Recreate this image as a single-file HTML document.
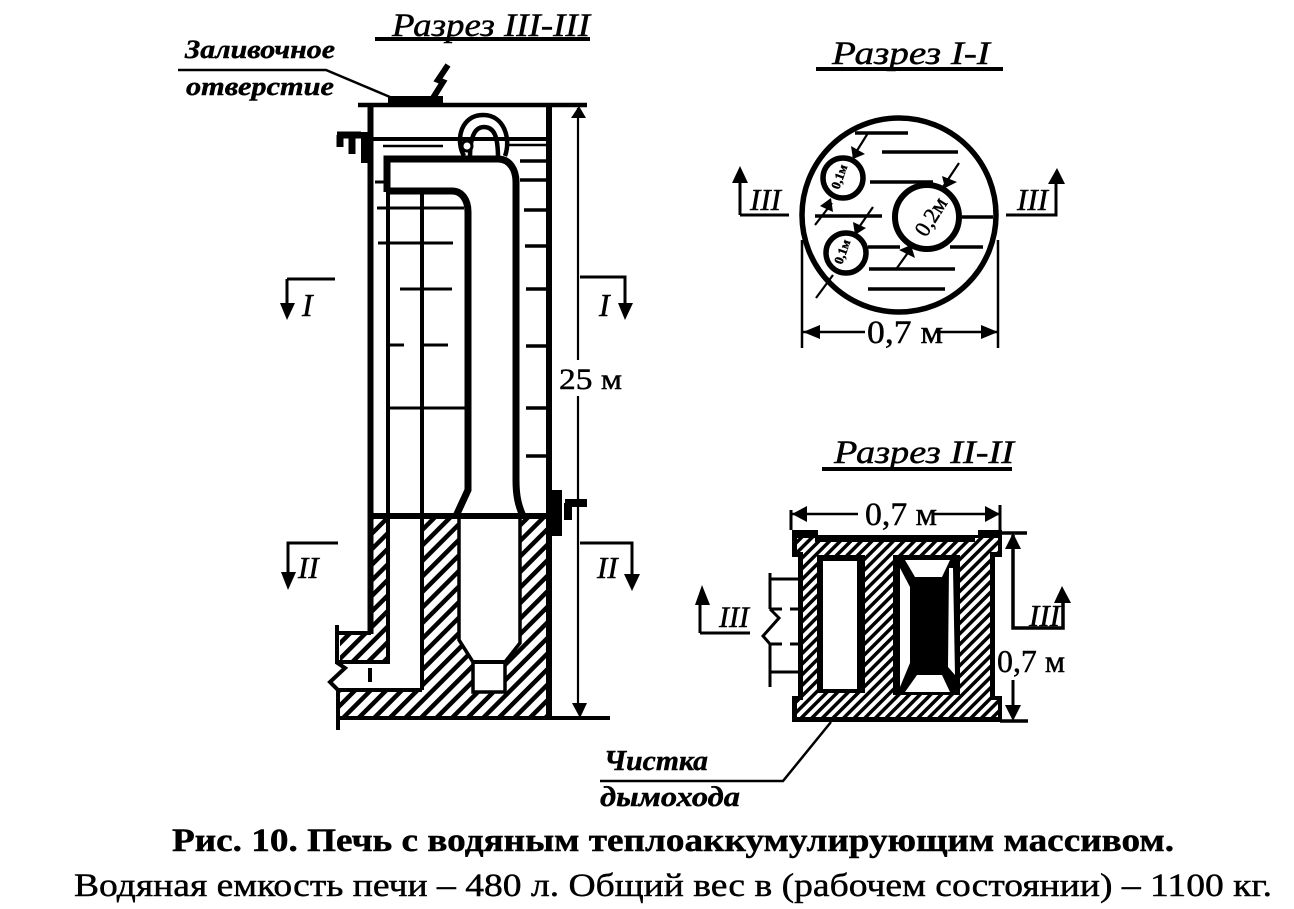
<!DOCTYPE html>
<html><head><meta charset="utf-8"><style>
html,body{margin:0;padding:0;background:#fff;width:1294px;height:909px;overflow:hidden}
svg{display:block}
text{fill:#000;stroke:#000;stroke-width:.45px;font-family:"Liberation Serif",serif}
.i{font-style:italic}
.b{font-weight:bold}
</style></head><body>
<svg width="1294" height="909" viewBox="0 0 1294 909" xmlns="http://www.w3.org/2000/svg">
<defs>
<pattern id="h" width="11" height="11" patternUnits="userSpaceOnUse" patternTransform="rotate(-45)">
<rect width="11" height="11" fill="#fff"/><rect width="11" height="4.500" fill="#000"/>
</pattern>
<pattern id="h2" width="7.500" height="7.500" patternUnits="userSpaceOnUse" patternTransform="rotate(-45)">
<rect width="7.500" height="7.500" fill="#fff"/><rect width="7.500" height="3.500" fill="#000"/>
</pattern>
</defs>
<rect width="1294" height="909" fill="#fff"/>

<!-- main section -->
<text class="i" x="392" y="36" font-size="33" textLength="198" lengthAdjust="spacingAndGlyphs">Разрез III-III</text>
<path d="M375 39H590" stroke="#000" stroke-width="4"/>
<text class="i b" x="185" y="58" font-size="26" textLength="150" lengthAdjust="spacingAndGlyphs">Заливочное</text>
<path d="M178 70H326L390 97" stroke="#000" stroke-width="2.500" fill="none"/>
<text class="i b" x="186" y="95" font-size="26" textLength="148" lengthAdjust="spacingAndGlyphs">отверстие</text>
<path d="M388 96H443V104H388z" fill="#000"/>
<path d="M433 98L443 82L438 80L448 65" stroke="#000" stroke-width="6" fill="none"/>
<path d="M358 105H587" stroke="#000" stroke-width="4.500"/>

<!-- hatch fill bottom -->
<path d="M372 518H388V660H340V634H372z" fill="url(#h)"/>
<path d="M422 518H459V640L473 662V692H505V662L520 643V518H548V716H340V692H422z" fill="url(#h)"/>

<!-- walls -->
<path d="M370.500 105V634M549 105V718" stroke="#000" stroke-width="6" fill="none"/>
<path d="M372 516H548" stroke="#000" stroke-width="6"/>
<path d="M368 139H548" stroke="#000" stroke-width="4"/>
<path d="M508 145H546M383 146H443" stroke="#000" stroke-width="2.500"/>
<!-- ring -->
<path d="M464 156C455 140 461 115 483 115C505 115 511 140 505 156" stroke="#000" stroke-width="4.500" fill="none"/>
<path d="M470 158C470 136 475 127 484 127C494 127 498 136 498 158" stroke="#000" stroke-width="4.500" fill="none"/>
<circle cx="467" cy="146" r="5" fill="#fff" stroke="#000" stroke-width="3"/>
<!-- flue -->
<path d="M387 192V159H498C510 159 516 170 516 182V480C516 495 518 505 523 516" stroke="#000" stroke-width="7" fill="none"/>
<path d="M387 191H452C462 191 468 200 468 212V490L456 516" stroke="#000" stroke-width="7" fill="none"/>
<path d="M388 190V661M422 190V690" stroke="#000" stroke-width="4" fill="none"/>
<path d="M459 518V640L473 662V692H505V662L520 643V518" stroke="#000" stroke-width="3.500" fill="none"/>
<path d="M473 662H505" stroke="#000" stroke-width="4" fill="none"/>
<path d="M375 182H387M377 208H464M378 243H453M400 289H452M386 345H404M420 345H448M386 408H468" stroke="#000" stroke-width="3" fill="none"/>
<path d="M520 161H548M520 180H548M524 210H548M525 246H548M526 289H548M526 346H548M526 408H548M526 456H548" stroke="#000" stroke-width="3.500" fill="none"/>
<!-- foot -->
<path d="M337 625V662H390M337 633H371M336 662L345 668L330 682L338 690H422M338 690V730M340 718H610" stroke="#000" stroke-width="4" fill="none"/>
<path d="M370 668V682" stroke="#000" stroke-width="4"/>
<!-- valves -->
<path d="M337 135H361M340 135V147M352 135V154" stroke="#000" stroke-width="7" fill="none"/>
<rect x="361" y="132" width="12" height="31"/>
<rect x="550" y="490" width="12" height="46"/>
<path d="M565 503H587M568 503V520" stroke="#000" stroke-width="8" fill="none"/>
<!-- dimension -->
<path d="M578 108V712" stroke="#000" stroke-width="2.200" fill="none"/>
<path d="M571 118L579 106L586 118zM572 703H587L580 718z" fill="#000"/>
<rect x="556" y="360" width="72" height="36" fill="#fff"/>
<text x="559" y="389" font-size="30" textLength="63" lengthAdjust="spacingAndGlyphs">25 м</text>
<!-- section marks -->
<path d="M287 279H335M287 279V304" stroke="#000" stroke-width="3" fill="none"/><path d="M280 303H295L287 320z"/>
<text class="i" x="302" y="316" font-size="32">I</text>
<path d="M580 277H625V304" stroke="#000" stroke-width="3" fill="none"/><path d="M618 303H633L625 320z"/>
<text class="i" x="599" y="316" font-size="32">I</text>
<path d="M338 543H288V572" stroke="#000" stroke-width="3" fill="none"/><path d="M281 572H296L288 590z"/>
<text class="i" x="298" y="578" font-size="31">II</text>
<path d="M580 543H632V574" stroke="#000" stroke-width="3" fill="none"/><path d="M624 574H640L632 591z"/>
<text class="i" x="597" y="578" font-size="31">II</text>

<!-- section I-I -->
<text class="i" x="832" y="64" font-size="33" textLength="158" lengthAdjust="spacingAndGlyphs">Разрез I-I</text>
<path d="M816 69H1003" stroke="#000" stroke-width="4"/>
<circle cx="899" cy="215" r="97" fill="none" stroke="#000" stroke-width="5.500"/>
<path d="M855 133H908M882 152H958M870 182H933M815 216H882M962 217H993M868 247H900M950 247H983M869 269H955M868 289H945" stroke="#000" stroke-width="3.500" fill="none"/>
<circle cx="843" cy="178" r="20" fill="#fff" stroke="#000" stroke-width="5.500"/>
<circle cx="846" cy="253" r="20" fill="#fff" stroke="#000" stroke-width="5.500"/>
<circle cx="927" cy="217" r="32" fill="#fff" stroke="#000" stroke-width="6"/>
<path d="M868 133L853 157M832 203L815 225M873 207L855 233M833 275L816 298M959 163L943 187M912 247L897 268" stroke="#000" stroke-width="2.200" fill="none"/>
<path d="M853 159L851 146L865 154zM831 198L820 206L833 212zM855 235L853 222L866 228zM945 188L942 176L957 182zM911 245L915 258L899 250z"/>
<text x="0" y="0" font-size="13" font-weight="bold" transform="translate(839,190) rotate(-70)">0,1м</text>
<text x="0" y="0" font-size="13" font-weight="bold" transform="translate(842,265) rotate(-70)">0,1м</text>
<text x="0" y="0" font-size="22" transform="translate(926,238) rotate(-58)">0,2м</text>
<path d="M740 215H789M740 215V180" stroke="#000" stroke-width="3" fill="none"/><path d="M732 183L740 166L748 183z"/>
<text class="i" x="750" y="210" font-size="31">III</text>
<path d="M1006 215H1056V182" stroke="#000" stroke-width="3" fill="none"/><path d="M1048 184L1057 168L1065 184z"/>
<text class="i" x="1017" y="210" font-size="31">III</text>
<path d="M802 240V348M998 240V348" stroke="#000" stroke-width="2.500" fill="none"/>
<path d="M803 332H865M935 332H998" stroke="#000" stroke-width="2.500" fill="none"/>
<path d="M803 332L820 325V339zM998 332L981 325V339z"/>
<text x="867" y="343" font-size="33" textLength="76" lengthAdjust="spacingAndGlyphs">0,7 м</text>

<!-- section II-II -->
<text class="i" x="834" y="463" font-size="33" textLength="180" lengthAdjust="spacingAndGlyphs">Разрез II-II</text>
<path d="M822 469H1012" stroke="#000" stroke-width="4"/>
<path d="M792 530H818V535H978V530H1002V557H995V696H1002V722H792V696H798V557H792z" fill="#000"/>
<path d="M797 538H815V542H975V538H998V552H990V700H998V717H797V700H803V552H797z" fill="url(#h2)"/>
<path d="M817 555H865V693H817z" fill="#000"/>
<rect x="823" y="561" width="34" height="128" fill="#fff"/>
<path d="M893 555H960V695H893z" fill="#000"/>
<path d="M905 560H950L942 577H915zM905 692H950L942 675H917zM900 568L910 587V663L900 687zM949 568H953L955 675L948 667z" fill="#fff"/>
<path d="M791 510V530M1000 505V530" stroke="#000" stroke-width="3"/>
<path d="M792 514H858M934 514H1000" stroke="#000" stroke-width="2.500"/>
<path d="M792 514L807 506V522zM1000 514L985 506V522z"/>
<text x="865" y="525" font-size="33" textLength="72" lengthAdjust="spacingAndGlyphs">0,7 м</text>
<path d="M1000 533H1027M1000 721H1028M1013 535V628H1063V600" stroke="#000" stroke-width="3.500" fill="none"/>
<path d="M1013 680V716" stroke="#000" stroke-width="3"/>
<path d="M1013 533L1021 549H1005zM1013 721L1005 705H1021z"/>
<path d="M1054 603L1062 586L1071 603z"/>
<text class="i" x="1029" y="626" font-size="31">III</text>
<text x="997" y="672" font-size="32" textLength="68" lengthAdjust="spacingAndGlyphs">0,7 м</text>
<path d="M770 573V609M770 644V687M770 579H798M770 672H798M770 609H782M790 609H798M770 644H782M790 644H798" stroke="#000" stroke-width="3" fill="none"/>
<path d="M770 609L779 618L763 636L770 644" stroke="#000" stroke-width="3" fill="none"/>
<path d="M700 633H750M700 633V602" stroke="#000" stroke-width="3" fill="none"/><path d="M695 605L702 585L710 605z"/>
<text class="i" x="719" y="627" font-size="30">III</text>

<path d="M831 722L783 781H600" stroke="#000" stroke-width="2.500" fill="none"/>
<text class="i b" x="604" y="770" font-size="28" textLength="104" lengthAdjust="spacingAndGlyphs">Чистка</text>
<text class="i b" x="600" y="806" font-size="28" textLength="140" lengthAdjust="spacingAndGlyphs">дымохода</text>

<!-- captions -->
<text class="b" x="172" y="851" font-size="33" textLength="1002" lengthAdjust="spacingAndGlyphs">Рис. 10. Печь с водяным теплоаккумулирующим массивом.</text>
<text x="74" y="896" font-size="33" textLength="1198" lengthAdjust="spacingAndGlyphs">Водяная емкость печи – 480 л. Общий вес в (рабочем состоянии) – 1100 кг.</text>
</svg>
</body></html>
